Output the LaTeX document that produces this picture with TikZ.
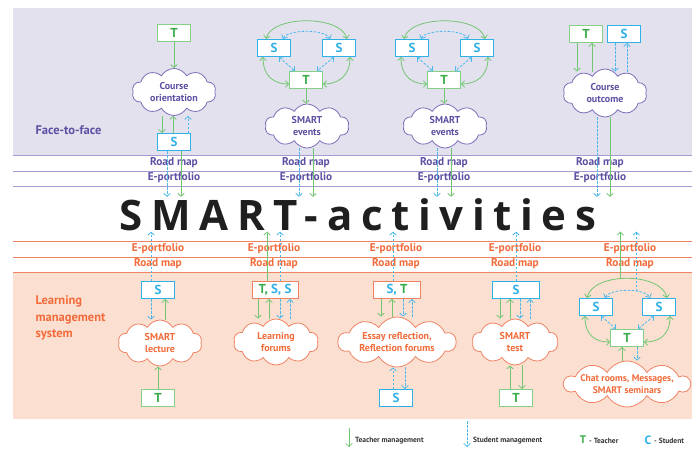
\documentclass[tikz,border=0pt]{standalone}
\usepackage{fontspec}
\setmainfont{PT Sans}
\newfontfamily\titlefont[LetterSpace=20.5]{Open Sans}
\usetikzlibrary{shapes.symbols,arrows.meta}

\definecolor{ffill}{HTML}{E4E1EF}
\definecolor{fline}{HTML}{A69AD2}
\definecolor{ftext}{HTML}{5E4FA2}
\definecolor{fcld}{HTML}{7D6DB8}
\definecolor{lfill}{HTML}{FBE0D2}
\definecolor{lline}{HTML}{F08262}
\definecolor{ltext}{HTML}{F26B3A}
\definecolor{tgreen}{HTML}{38AC48}
\definecolor{tline}{HTML}{72C672}
\definecolor{tbord}{HTML}{86CF86}
\definecolor{sblue}{HTML}{2FB0E6}
\definecolor{sline}{HTML}{4CB9EA}

\tikzset{
  >={Straight Barb[length=3pt,width=6.5pt]},
  tm/.style={->, draw=tline, line width=0.8pt},
  sm/.style={->, draw=sline, line width=0.8pt, dash pattern=on 2.5pt off 1.5pt},
  box/.style={draw, fill=white, line width=1pt, minimum width=33, minimum height=17,
    inner sep=0pt, font=\bfseries\fontsize{13}{13}\selectfont},
  tbox/.style={box, draw=tbord, text=tgreen},
  sbox/.style={box, draw=sblue, text=sblue},
  lbox/.style={box, draw=lline},
  fcloud/.style={cloud, cloud puffs=10, cloud puff arc=120, aspect=2, draw=fcld,
    fill=white, line width=0.8pt, inner sep=0pt},
  lcloud/.style={fcloud, draw=lline},
  fctext/.style={align=center, inner sep=0pt, text=ftext,
    font=\bfseries\fontsize{10}{12.5}\selectfont},
  lctext/.style={fctext, text=ltext},
  bandtext/.style={inner sep=0pt, font=\bfseries\fontsize{11.3}{12}\selectfont},
  legend/.style={anchor=west, inner sep=0pt, text=black!80, font=\bfseries\fontsize{7.5}{8}\selectfont},
}

\begin{document}
\begin{tikzpicture}[x=1pt,y=-1pt]
    \useasboundingbox (0,0) rectangle (696,448);

    % Face-to-face band
    \fill[ffill] (13,8) rectangle (692,155);
    \foreach \y in {155,171,186}
        \draw[fline, line width=0.9pt] (13,\y) -- (692,\y);

    % Learning management system band
    \fill[lfill] (13,272) rectangle (692,419);
    \foreach \y in {241,257,272}
        \draw[lline, line width=0.9pt] (13,\y) -- (692,\y);

    % Band labels
    \node[anchor=west, text=ftext, font=\bfseries\fontsize{12.5}{15}\selectfont] (ftf) at (32,130) {Face-to-face};
    \node[anchor=west, align=left, text=ltext, font=\bfseries\fontsize{12.5}{16.5}\selectfont] (lms) at (32,318) {Learning\\management\\system};
    \foreach \x/\i in {174/1,306/2,444/3,600/4} {
        \node[bandtext, text=ftext] (rm\i) at (\x,163) {Road map};
        \node[bandtext, text=ftext] (ep\i) at (\x,178) {E-portfolio};
    }
    \foreach \x/\i in {158/1,274/2,396/3,515/4,630/5} {
        \node[bandtext, text=ltext] (lep\i) at (\x,249) {E-portfolio};
        \node[bandtext, text=ltext] (lrm\i) at (\x,264) {Road map};
    }

    % Title
    \node[anchor=base, inner sep=1pt, text=black!88, font=\titlefont\bfseries\fontsize{42}{42}\selectfont] (smart) at (358,230) {SMART-activities};

    % Face-to-face: course orientation
    \node[tbox] (ft1) at (174,33) {T};
    \node[fcloud, minimum width=84, minimum height=47] (fc1) at (174,92) {};
    \node[fctext] (fc1t) at (fc1) {Course\\orientation};
    \node[sbox] (fs1) at (174,142) {S};
    \draw[tm] (ft1) -- (fc1);
    \draw[tm] ([xshift=-12]fc1.south) -- ([xshift=-12]fs1.north);
    \draw[tm] ([xshift=-1]fs1.north) -- ([xshift=-1]fc1.south);
    \draw[sm] ([xshift=14]fs1.north) -- ([xshift=14]fc1.south);
    \draw[sm] ([xshift=-7]fs1.south) -- ([xshift=-7]fs1.south |- smart.north);
    \draw[tm] ([xshift=7]fs1.south) -- ([xshift=7]fs1.south |- smart.north);

    % Face-to-face: SMART events
    \foreach \i/\x in {2/306,3/444} {
        \node[sbox] (fa\i) at (\x-32,48) {S};
        \node[sbox] (fb\i) at (\x+33,48) {S};
        \node[tbox] (ft\i) at (\x,80) {T};
        \node[fcloud, minimum width=84, minimum height=44] (fc\i) at (\x+1,126) {};
        \node[fctext] (fc\i t) at (fc\i) {SMART\\events};
        \draw[tm,<->] ([xshift=-8]fa\i.north) .. controls +(6,-24) and +(-6,-24) .. ([xshift=8]fb\i.north);
        \draw[sm,<->] ([xshift=9]fa\i.north) .. controls +(5,-10) and +(-5,-10) .. ([xshift=-9]fb\i.north);
        \draw[tm,<->] ([xshift=-11]fa\i.south) .. controls +(0,20) and +(-14,0) .. ([yshift=-4]ft\i.west);
        \draw[tm,<->] ([xshift=11]fb\i.south) .. controls +(0,20) and +(14,0) .. ([yshift=-4]ft\i.east);
        \draw[sm,<->] ([xshift=5]fa\i.south) -- ([xshift=-11]ft\i.north);
        \draw[sm,<->] ([xshift=-5]fb\i.south) -- ([xshift=11]ft\i.north);
        \draw[tm] (ft\i.south) -- (ft\i.south |- fc\i.north);
        \draw[sm] ([xshift=-8]fc\i.south) -- ([xshift=-8]fc\i.south |- smart.north);
        \draw[tm] ([xshift=6]fc\i.south) -- ([xshift=6]fc\i.south |- smart.north);
    }

    % Face-to-face: course outcome
    \node[tbox] (ft4) at (586,34) {T};
    \node[sbox] (fs4) at (624,34) {S};
    \node[fcloud, minimum width=84, minimum height=48] (fc4) at (605,93) {};
    \node[fctext] (fc4t) at (fc4) {Course\\outcome};
    \draw[tm] ([xshift=-9]ft4.south) -- ([xshift=-9,yshift=-3]ft4.south |- fc4.north);
    \draw[tm] ([xshift=6,yshift=-3]ft4.south |- fc4.north) -- ([xshift=6]ft4.south);
    \draw[sm] ([xshift=-9]fs4.south) -- ([xshift=-9,yshift=-3]fs4.south |- fc4.north);
    \draw[sm] ([xshift=3,yshift=-3]fs4.south |- fc4.north) -- ([xshift=3]fs4.south);
    \draw[sm] ([xshift=-8]fc4.south) -- ([xshift=-8]fc4.south |- smart.north);
    \draw[tm] ([xshift=5]fc4.south) -- ([xshift=5]fc4.south |- smart.north);

    % LMS: SMART lecture
    \node[sbox] (ls1) at (158,290) {S};
    \node[lcloud, minimum width=84, minimum height=46] (lc1) at (160,343) {};
    \node[lctext] (lc1t) at (lc1) {SMART\\lecture};
    \node[tbox] (lt1) at (158,398) {T};
    \draw[sm] ([xshift=-7]ls1.north) -- ([xshift=-7]ls1.north |- smart.south);
    \draw[sm] ([xshift=-7]ls1.south) -- ([xshift=-7]ls1.south |- lc1.north);
    \draw[tm] ([xshift=7]ls1.south |- lc1.north) -- ([xshift=7]ls1.south);
    \draw[tm] (lt1.north) -- (lt1.north |- lc1.south);

    % LMS: learning forums
    \node[lbox, minimum width=46] (lb2) at (275,290) {{\color{tgreen}T,} {\color{sblue}S, S}};
    \node[lcloud, minimum width=85, minimum height=46] (lc2) at (276,342) {};
    \node[lctext] (lc2t) at (lc2) {Learning\\forums};
    \draw[tm] ([xshift=-17]lb2.south) -- ([xshift=-17]lb2.south |- lc2.north);
    \draw[tm] ([xshift=-6]lb2.south |- lc2.north) -- ([xshift=-6]lb2.south);
    \draw[sm] ([xshift=5]lb2.south) -- ([xshift=5]lb2.south |- lc2.north);
    \draw[sm] ([xshift=15]lb2.south |- lc2.north) -- ([xshift=15]lb2.south);
    \draw[tm] ([xshift=-8]lb2.north) -- ([xshift=-8]lb2.north |- smart.south);
    \draw[sm] ([xshift=5]lb2.north) -- ([xshift=5]lb2.north |- smart.south);

    % LMS: essay reflection
    \node[lbox, minimum width=47] (lb3) at (397,290) {{\color{sblue}S,} {\color{tgreen}T}};
    \node[lcloud, minimum width=118, minimum height=50] (lc3) at (397,342) {};
    \node[lctext] (lc3t) at (lc3) {Essay reflection,\\Reflection forums};
    \node[sbox] (ls3) at (396,398) {S};
    \draw[tm] ([xshift=-16]lb3.south) -- ([xshift=-16]lb3.south |- lc3.north);
    \draw[tm] ([xshift=-5]lb3.south |- lc3.north) -- ([xshift=-5]lb3.south);
    \draw[sm] ([xshift=6]lb3.south) -- ([xshift=6]lb3.south |- lc3.north);
    \draw[sm] ([xshift=15]lb3.south |- lc3.north) -- ([xshift=15]lb3.south);
    \draw[sm] ([xshift=-3]ls3.north) -- ([xshift=-3]ls3.north |- lc3.south);
    \draw[sm] ([xshift=9]ls3.north |- lc3.south) -- ([xshift=9]ls3.north);
    \draw[sm] ([xshift=-4]lb3.north) -- ([xshift=-4]lb3.north |- smart.south);

    % LMS: SMART test
    \node[sbox, minimum width=47] (ls4) at (516,290) {S};
    \node[lcloud, minimum width=86, minimum height=46] (lc4) at (515,342) {};
    \node[lctext] (lc4t) at (lc4) {SMART\\test};
    \node[tbox] (lt4) at (516,398) {T};
    \draw[tm] ([xshift=-16]ls4.south) -- ([xshift=-16]ls4.south |- lc4.north);
    \draw[tm] ([xshift=-6]ls4.south |- lc4.north) -- ([xshift=-6]ls4.south);
    \draw[sm] ([xshift=4]ls4.south) -- ([xshift=4]ls4.south |- lc4.north);
    \draw[sm] ([xshift=14]ls4.south |- lc4.north) -- ([xshift=14]ls4.south);
    \draw[tm] ([xshift=-6]lt4.north) -- ([xshift=-6]lt4.north |- lc4.south);
    \draw[tm] ([xshift=6]lt4.north |- lc4.south) -- ([xshift=6]lt4.north);
    \draw[sm] (ls4.north) -- (ls4.north |- smart.south);

    % LMS: chat rooms
    \node[sbox] (la5) at (596,307) {S};
    \node[sbox] (lb5) at (659,307) {S};
    \node[tbox] (lt5) at (627,338) {T};
    \node[lcloud, minimum width=126, minimum height=46] (lc5) at (627,384) {};
    \node[lctext, font=\bfseries\fontsize{9.6}{12}\selectfont] (lc5t) at (lc5) {Chat rooms, Messages,\\SMART seminars};
    \draw[tm,<->] ([xshift=-9]la5.north) .. controls +(6,-26) and +(-6,-26) .. ([xshift=8]lb5.north) coordinate[pos=0.44] (g5);
    \draw[sm,<->] ([xshift=9]la5.north) .. controls +(5,-10) and +(-5,-10) .. ([xshift=-9]lb5.north) coordinate[pos=0.65] (b5);
    \draw[tm,<->] ([xshift=-11]la5.south) .. controls +(0,20) and +(-14,0) .. ([yshift=-4]lt5.west);
    \draw[tm,<->] ([xshift=11]lb5.south) .. controls +(0,20) and +(14,0) .. ([yshift=-4]lt5.east);
    \draw[sm,<->] ([xshift=5]la5.south) -- ([xshift=-11]lt5.north);
    \draw[sm,<->] ([xshift=-5]lb5.south) -- ([xshift=11]lt5.north);
    \draw[tm] ([xshift=-5]lt5.south |- lc5.north) -- ([xshift=-5]lt5.south);
    \draw[sm] ([xshift=10]lt5.south) -- ([xshift=10]lt5.south |- lc5.north);
    \draw[tm] (g5) -- (g5 |- smart.south);
    \draw[sm] (b5) -- (b5 |- smart.south);

    % Legend
    \coordinate (lgt1) at (349,428);
    \coordinate (lgt2) at (349,447);
    \coordinate (lgs1) at (467,421);
    \coordinate (lgs2) at (467,447);
    \draw[tm] (lgt1) -- (lgt2);
    \draw[sm] (lgs1) -- (lgs2);
    \node[legend] (lgtm) at (355,441) {Teacher management};
    \node[legend] (lgsm) at (473,441) {Student management};
    \node[inner sep=0pt, text=tgreen, font=\bfseries\fontsize{11}{11}\selectfont] (lgT) at (583,440) {T};
    \node[legend] (lgTt) at (589,441) {- Teacher};
    \node[inner sep=0pt, text=sblue, font=\bfseries\fontsize{12}{12}\selectfont] (lgC) at (648,440) {C};
    \node[legend] (lgCt) at (654,441) {- Student};

\end{tikzpicture}
\end{document}
